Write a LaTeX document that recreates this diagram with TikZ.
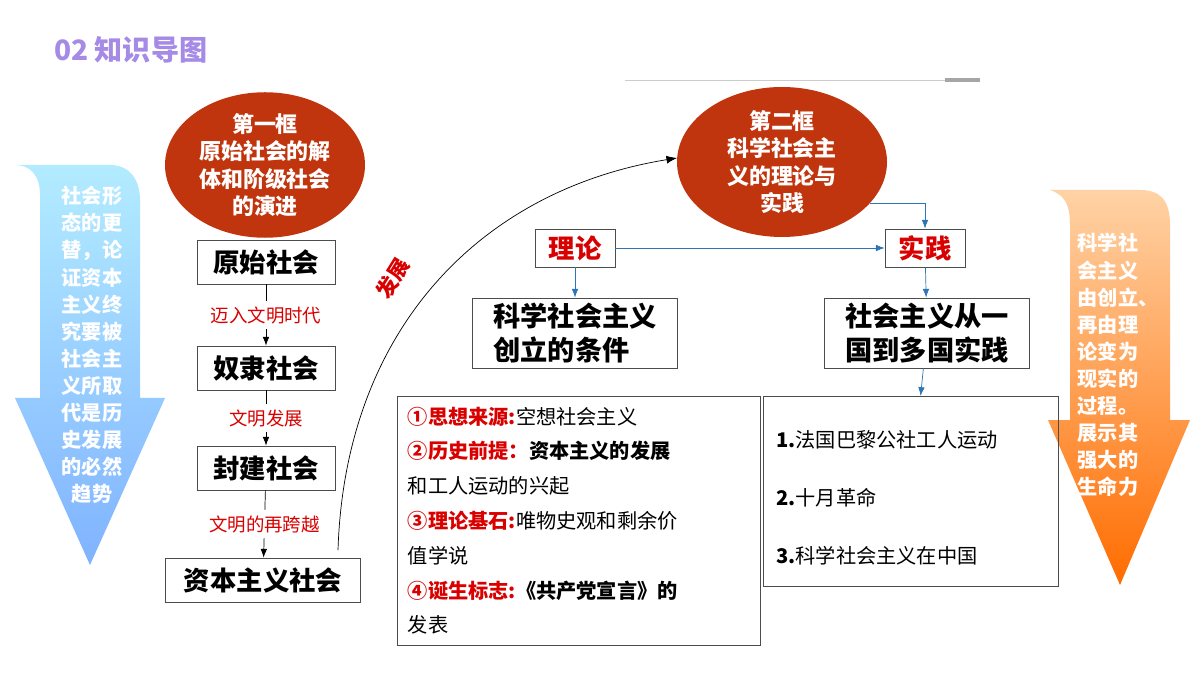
\documentclass[tikz,border=0pt]{standalone}
\usepackage{fontspec}
\setmainfont{Noto Sans CJK SC}
\usetikzlibrary{shapes.geometric,positioning,arrows.meta}
\definecolor{frame}{HTML}{C0350E}
\definecolor{linkblue}{HTML}{2E75B6}
\definecolor{titlepurple}{HTML}{A58BE6}
\tikzset{
  stagebox/.style={draw=black!70,thin,fill=white,font=\fontsize{15}{17}\selectfont\bfseries,minimum height=44*0.02cm,inner sep=3pt},
  framebubble/.style={ellipse,fill=frame,text=white,font=\fontsize{12.5}{15.5}\selectfont\bfseries,align=center,inner sep=0pt},
  steplabel/.style={text=red!85!black,font=\fontsize{10.5}{12}\selectfont},
  keybox/.style={draw=black!70,thin,fill=white,font=\fontsize{15}{17}\selectfont\bfseries,text=red!85!black,minimum width=80*0.02cm,minimum height=38*0.02cm},
  bluearrow/.style={-{Latex[length=5pt]},linkblue,thin},
}
\begin{document}
\begin{tikzpicture}[x=0.02cm,y=-0.02cm]
\useasboundingbox (0,0) rectangle (1200,675);
% title
\node[text=titlepurple,font=\fontsize{16}{18}\selectfont\bfseries,anchor=west] (title) at (48,50) {02 知识导图};
\draw[gray!40,thin] (625,80) -- (945,80);
\draw[gray!70,line width=2pt] (945,80) -- (980,80);

% side arrows
\shade[top color=blue!25!cyan!30,bottom color=blue!60!cyan!50]
  (15,165) .. controls (30,165) and (40,175) .. (40,195) -- (40,398) -- (15,398) -- (90,565) -- (165,398) -- (140,398) -- (140,200) .. controls (140,180) and (130,165) .. (110,165) -- cycle;
\node[text=white,font=\fontsize{11.5}{15.4}\selectfont\bfseries,align=center] (leftnote) at (92,345)
  {社会形\\态的更\\替，论\\证资本\\主义终\\究要被\\社会主\\义所取\\代是历\\史发展\\的必然\\趋势};
\shade[top color=orange!35,bottom color=orange!85!red]
  (1050,190) .. controls (1065,195) and (1070,205) .. (1070,225) -- (1070,420) -- (1048,420) -- (1120,585) -- (1190,420) -- (1170,420) -- (1170,225) .. controls (1170,200) and (1160,190) .. (1140,190) -- cycle;
\node[text=white,font=\fontsize{11.5}{15.4}\selectfont\bfseries,align=left] (rightnote) at (1118,365)
  {科学社\\会主义\\由创立、\\再由理\\论变为\\现实的\\过程。\\展示其\\强大的\\生命力};

% first frame
\node[framebubble,minimum width=200*0.02cm,minimum height=140*0.02cm] (frameone) at (265,165) {第一框\\原始社会的解\\体和阶级社会\\的演进};
\node[stagebox,minimum width=138*0.02cm] (primitive) at (266,262) {原始社会};
\node[stagebox,minimum width=138*0.02cm] (slave) at (266,368) {奴隶社会};
\node[stagebox,minimum width=138*0.02cm] (feudal) at (266,468) {封建社会};
\node[stagebox,minimum width=195*0.02cm] (capital) at (263,580) {资本主义社会};
\draw[-{Latex[length=5pt]}] (primitive) -- node[steplabel,fill=white] {迈入文明时代} (slave);
\draw[-{Latex[length=5pt]}] (slave) -- node[steplabel,fill=white] {文明发展} (feudal);
\draw[-{Latex[length=5pt]}] (feudal) -- node[steplabel,fill=white] {文明的再跨越} (capital);

% development curve
\coordinate (curvestart) at (338,550);
\draw[-{Latex[length=6pt]}] (curvestart) .. controls (345,330) and (480,190) .. (677,158);
\node[text=red!85!black,font=\fontsize{12}{14}\selectfont\bfseries,rotate=58,inner sep=1pt] (develop) at (393,278) {发展};

% second frame
\node[framebubble,minimum width=210*0.02cm,minimum height=150*0.02cm] (frametwo) at (782,162) {第二框\\科学社会主\\义的理论与\\实践};
\node[keybox] (theory) at (575,248) {理论};
\node[keybox] (practice) at (925,248) {实践};
\node[stagebox,minimum width=205*0.02cm,align=left,font=\fontsize{15.5}{19}\selectfont\bfseries] (condition) at (575,333) {科学社会主义\\创立的条件};
\node[stagebox,minimum width=205*0.02cm,align=left,font=\fontsize{15.5}{19}\selectfont\bfseries] (spread) at (927,333) {社会主义从一\\国到多国实践};
\draw[bluearrow] (theory) -- (practice);
\draw[bluearrow] (theory) -- (condition);
\draw[bluearrow] (practice) -- (spread);
\draw[bluearrow] (frametwo.-25) -| (practice.north);

% detail boxes
\node[draw=black!70,thin,anchor=north west,text width=342*0.02cm,align=left,inner sep=6pt,font=\fontsize{11.5}{19.8}\selectfont] (sources) at (397,396)
  {\textcolor{red!85!black}{\bfseries ①思想来源:}空想社会主义\\
   \textcolor{red!85!black}{\bfseries ②历史前提：}\textbf{资本主义的发展}\\
   和工人运动的兴起\\
   \textcolor{red!85!black}{\bfseries ③理论基石:}唯物史观和剩余价\\
   值学说\\
   \textcolor{red!85!black}{\bfseries ④诞生标志:}\textbf{《共产党宣言》的}\\
   发表};
\node[draw=black!70,thin,anchor=north west,minimum width=295*0.02cm,minimum height=190*0.02cm] (events) at (763,396) {};
\node[anchor=west,align=left,font=\fontsize{11.5}{33}\selectfont] (eventlist) at (770,498)
  {\textbf{1.}法国巴黎公社工人运动\\ \textbf{2.}十月革命\\ \textbf{3.}科学社会主义在中国};
\draw[bluearrow] (spread) -- (events);
\end{tikzpicture}
\end{document}
